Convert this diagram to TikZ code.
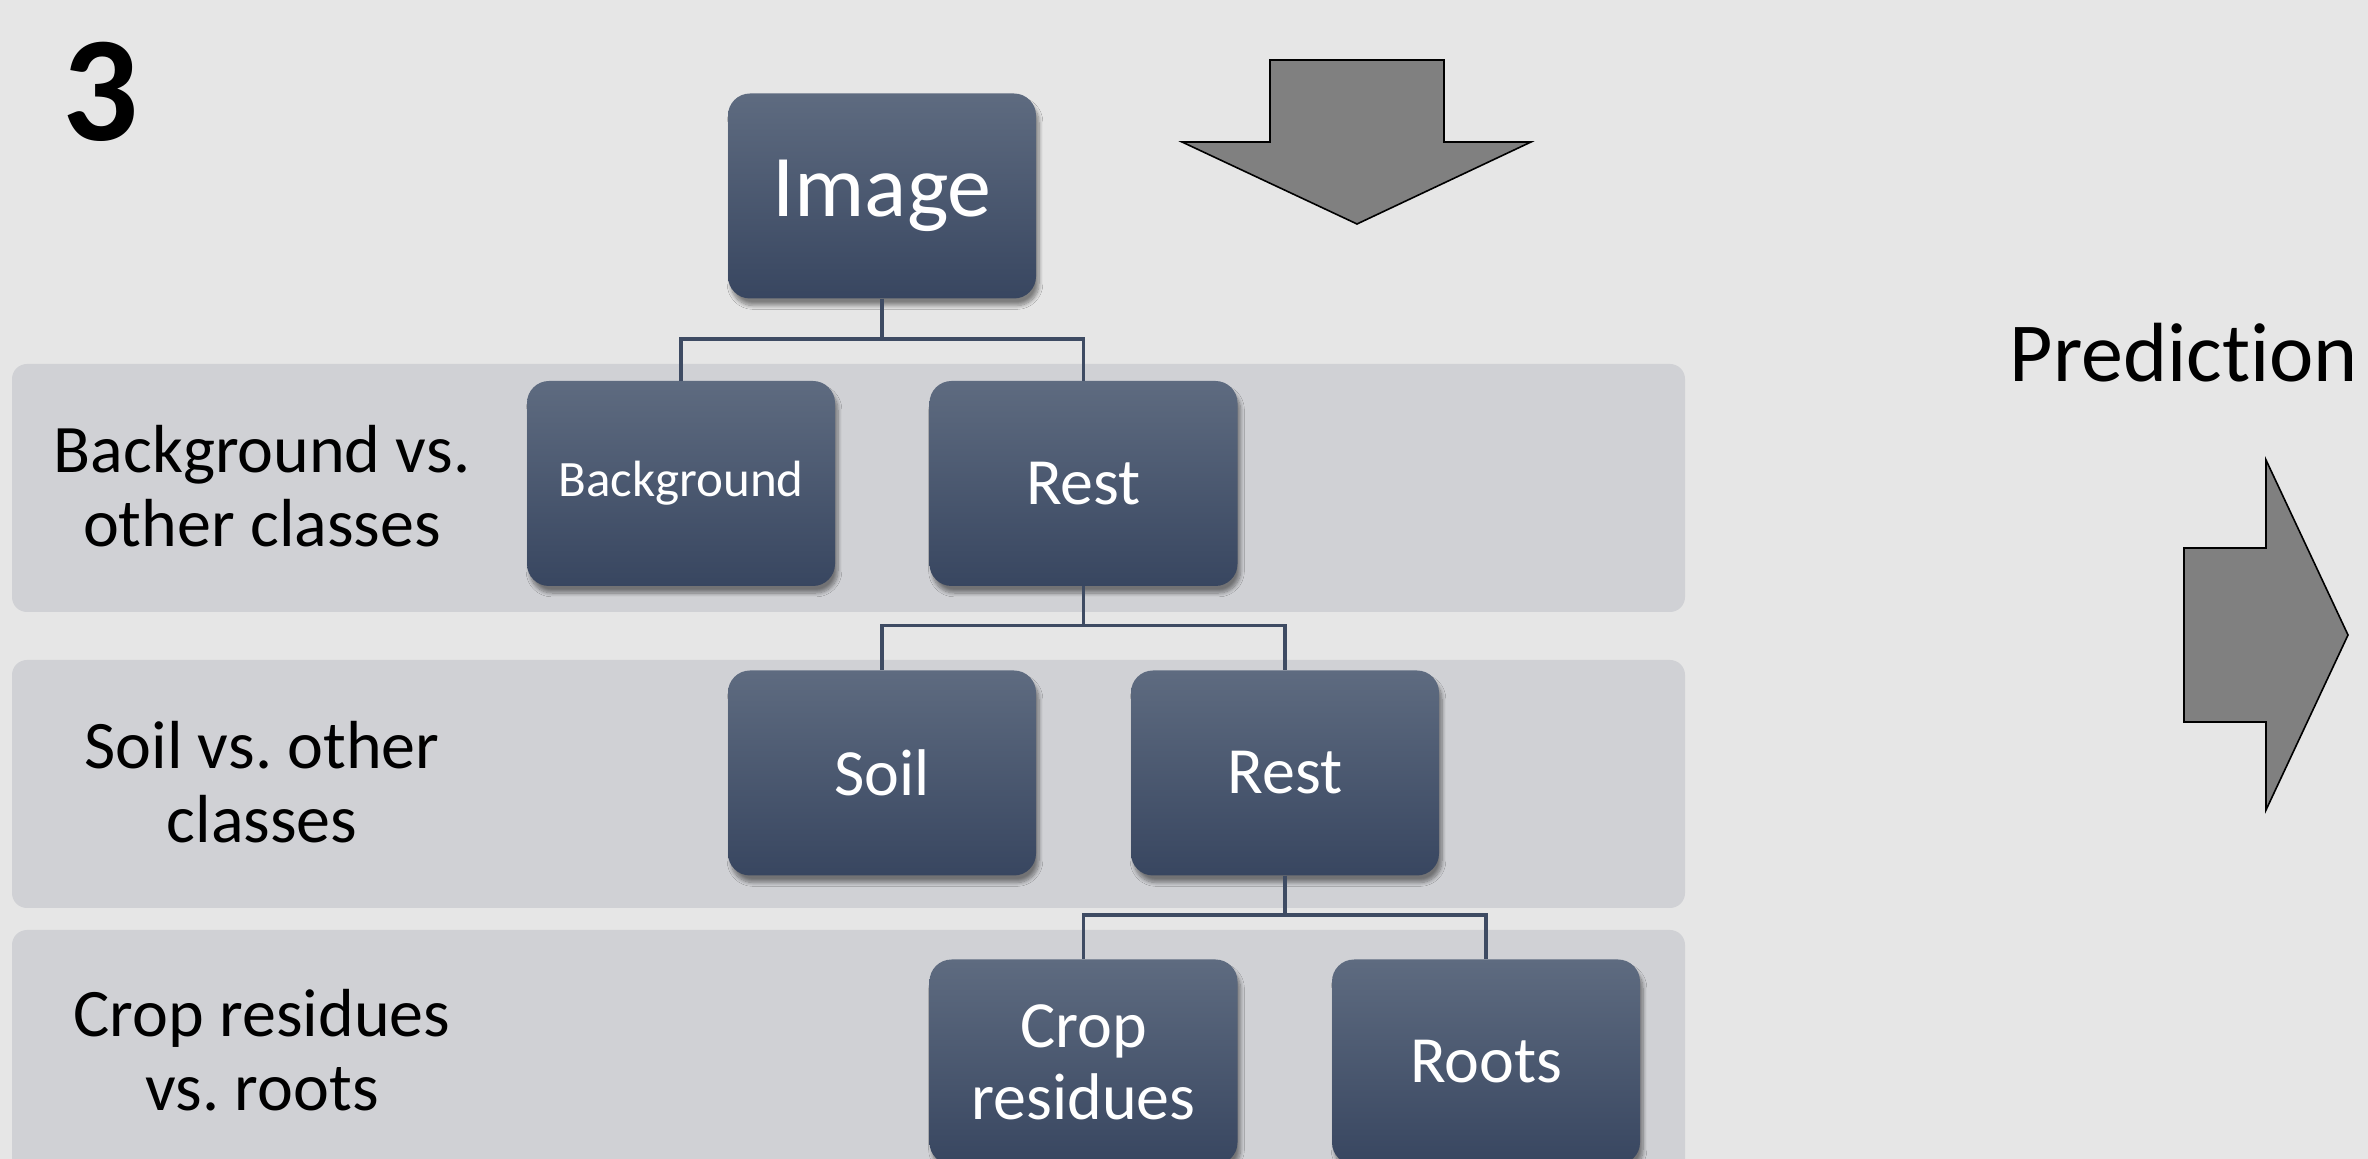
\documentclass[tikz,border=0pt]{standalone}
\usepackage{fontspec}
\setmainfont{Carlito}[Ligatures=NoCommon]
\usetikzlibrary{shadows.blur}
\definecolor{pagebg}{HTML}{E6E6E6}
\definecolor{bandbg}{HTML}{D0D1D5}
\definecolor{boxtop}{HTML}{5E6B80}
\definecolor{boxbot}{HTML}{384660}
\definecolor{linkc}{HTML}{3E4B63}
\definecolor{arrowgray}{HTML}{808080}
\frenchspacing
\begin{document}
\begin{tikzpicture}[x=0.5pt,y=-0.5pt,
  classbox/.style={rectangle, rounded corners=11pt, minimum width=154pt,
    minimum height=102.5pt, inner sep=0pt, top color=boxtop, bottom color=boxbot,
    text=white, align=center, font=\fontsize{33}{36}\selectfont,
    blur shadow={shadow xshift=1.5pt, shadow yshift=-3.5pt, shadow opacity=45, shadow blur steps=8}},
  band/.style={fill=bandbg, rounded corners=7.5pt},
  link/.style={draw=linkc, line width=1.7pt},
  bigarrow/.style={fill=arrowgray, draw=black, line width=0.8pt, line join=miter},
  rowlabel/.style={align=center, font=\fontsize{34}{37}\selectfont},
]
% canvas
\clip (0,0) rectangle (2368,1159);
\fill[pagebg] (0,0) rectangle (2368,1159);

% level bands
\fill[band] (12,364) rectangle (1685,612);
\fill[band] (12,660) rectangle (1685,908);
\fill[band] (12,930) rectangle (1685,1190);

% step number
\node[font=\fontsize{75}{80}\selectfont\bfseries, anchor=base] (num) at (101,141) {3};

% row labels
\node[rowlabel] (lab1) at (262,486) {Background vs.\\other classes};
\node[rowlabel] (lab2) at (262,782) {Soil vs. other\\classes};
\node[rowlabel] (lab3) at (262,1050) {Crop residues\\vs. roots};

% class hierarchy
\node[classbox, font=\fontsize{44}{48}\selectfont] (img) at (882,196) {Image};
\node[classbox, font=\fontsize{25.5}{28}\selectfont] (bg) at (681,483.5) {Background};
\node[classbox] (rest1) at (1083.5,483.5) {Rest};
\node[classbox] (soil) at (882,773) {Soil};
\node[classbox] (rest2) at (1285,773) {Rest};
\node[classbox] (crop) at (1083.5,1062) {Crop\\residues};
\node[classbox] (roots) at (1486,1062) {Roots};

% connectors
\draw[link] (img.south) -- ++(0,40) -| (bg.north);
\draw[link] (img.south) -- ++(0,40) -| (rest1.north);
\draw[link] (rest1.south) -- ++(0,39) -| (soil.north);
\draw[link] (rest1.south) -- ++(0,39) -| (rest2.north);
\draw[link] (rest2.south) -- ++(0,39) -| (crop.north);
\draw[link] (rest2.south) -- ++(0,39) -| (roots.north);

% block arrows
\draw[bigarrow] (1270,60) -- (1444,60) -- (1444,142) -- (1531,142) -- (1357,224)
  -- (1182,142) -- (1270,142) -- cycle;
\node[font=\fontsize{42}{46}\selectfont, anchor=base] (pred) at (2184,382) {Prediction};
\draw[bigarrow] (2184,548) -- (2266,548) -- (2266,460) -- (2348,635) -- (2266,810)
  -- (2266,722) -- (2184,722) -- cycle;
\end{tikzpicture}
\end{document}
